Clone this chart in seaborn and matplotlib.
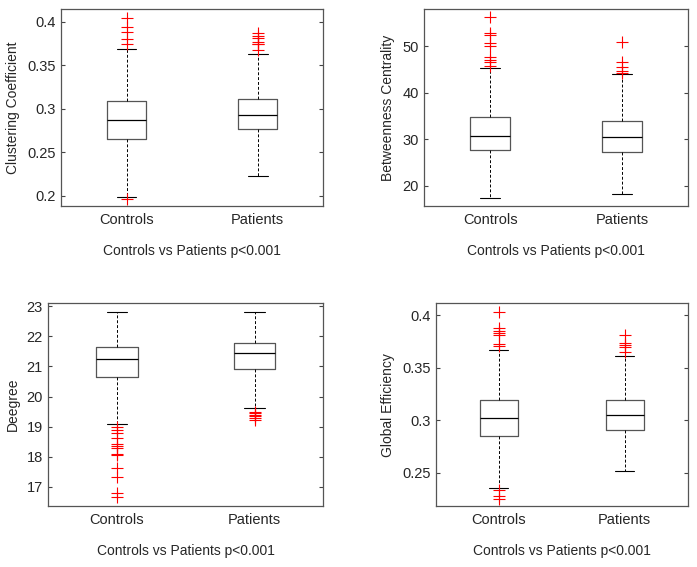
import matplotlib
matplotlib.use("Agg")
import matplotlib.pyplot as plt
import seaborn as sns

sns.set_style("white")
plt.rcParams['font.family'] = ['Liberation Sans', 'DejaVu Sans']

groups = ["Controls", "Patients"]
comparison = "Controls vs Patients p<0.001"

# box stats per panel: [whislo, q1, median, q3, whishi] for Controls, Patients
clust_stats = [[0.1993, 0.265, 0.2868, 0.3087, 0.3687],
               [0.2226, 0.2765, 0.2926, 0.3117, 0.3633]]
clust_fliers = [[0.4046, 0.3936, 0.3885, 0.380, 0.375, 0.1965],
                [0.387, 0.384, 0.381, 0.377, 0.375, 0.374, 0.367]]

betw_stats = [[17.4, 27.75, 30.7, 34.85, 45.4],
              [18.2, 27.2, 30.4, 33.9, 44.0]]
betw_fliers = [[56.15, 52.8, 52.3, 50.6, 50.05, 47.6, 47.0, 46.5, 45.8],
               [50.9, 46.6, 45.5, 44.6, 44.3]]

deg_stats = [[19.08, 20.64, 21.24, 21.66, 22.8],
             [19.61, 20.9, 21.44, 21.77, 22.8]]
deg_fliers = [[19.0, 18.9, 18.8, 18.63, 18.43, 18.35, 18.3, 18.1, 18.05,
               17.61, 17.33, 16.78, 16.65],
              [19.5, 19.45, 19.4, 19.35, 19.3, 19.22]]

geff_stats = [[0.2354, 0.2855, 0.3023, 0.3194, 0.3667],
              [0.2516, 0.2912, 0.3054, 0.3197, 0.3611]]
geff_fliers = [[0.4029, 0.3876, 0.3852, 0.383, 0.381, 0.3724, 0.371,
                0.2339, 0.2285, 0.2251],
               [0.3812, 0.3737, 0.3718, 0.3696, 0.3652]]

panels = [
    ("Clustering Coefficient", clust_stats, clust_fliers, (0.1885, 0.4146),
     [0.2, 0.25, 0.3, 0.35, 0.4], ["0.2", "0.25", "0.3", "0.35", "0.4"],
     (61, 9, 262.3, 197)),
    ("Betweenness Centrality", betw_stats, betw_fliers, (15.7, 57.96),
     [20, 30, 40, 50], ["20", "30", "40", "50"],
     (424.3, 9, 263.4, 197)),
    ("Deegree", deg_stats, deg_fliers, (16.36, 23.1),
     [17, 18, 19, 20, 21, 22, 23], ["17", "18", "19", "20", "21", "22", "23"],
     (48.3, 303.3, 275, 202.7)),
    ("Global Efficiency", geff_stats, geff_fliers, (0.2186, 0.4114),
     [0.25, 0.3, 0.35, 0.4], ["0.25", "0.3", "0.35", "0.4"],
     (436, 303.3, 251.7, 202.7)),
]

W, H = 697, 567
fig = plt.figure(figsize=(W / 100, H / 100), dpi=100)

for ylabel, stats, fliers, ylim, yticks, yticklabels, (l, t, w, h) in panels:
    ax = fig.add_axes([l / W, (H - t - h) / H, w / W, h / H])
    bxp_stats = []
    for name, s, f in zip(groups, stats, fliers):
        bxp_stats.append(dict(label=name, whislo=s[0], q1=s[1], med=s[2],
                              q3=s[3], whishi=s[4], fliers=f))
    ax.bxp(bxp_stats, positions=[1, 2], widths=0.3, showfliers=True,
           boxprops=dict(color="#555555", linewidth=0.9),
           whiskerprops=dict(color="black", linewidth=0.7, linestyle=(0, (3, 2))),
           capprops=dict(color="black", linewidth=0.8),
           medianprops=dict(color="black", linewidth=0.9),
           flierprops=dict(marker="+", markeredgecolor="red", markersize=8,
                           markeredgewidth=0.8, linestyle="none"),
           capwidths=0.15)
    ax.set_xlim(0.5, 2.5)
    ax.set_ylim(*ylim)
    ax.set_yticks(yticks)
    ax.set_yticklabels(yticklabels)
    ax.set_xticks([1, 2])
    ax.set_xticklabels(groups)
    ax.set_ylabel(ylabel, fontsize=10, labelpad=5)
    ax.set_xlabel(comparison, fontsize=10, labelpad=12)
    ax.tick_params(axis="y", direction="in", length=3, right=True, left=True,
                   labelsize=10.5, pad=4, color="#444444")
    ax.tick_params(axis="x", length=0, labelsize=10.5, pad=5)
    for sp in ax.spines.values():
        sp.set_color("#555555")
        sp.set_linewidth(0.9)

fig.savefig("out.png", dpi=100)
